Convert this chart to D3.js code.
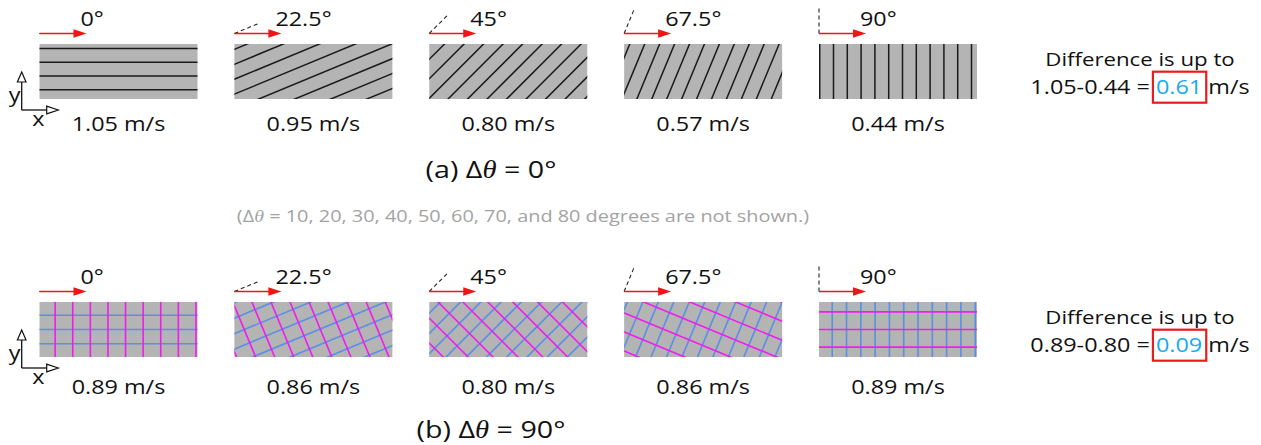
<!DOCTYPE html>
<html>
<head>
<meta charset="utf-8">
<script src="https://cdn.jsdelivr.net/npm/d3@7"></script>
<style>
  html, body { margin: 0; padding: 0; background: #fff; }
  svg { display: block; }
</style>
</head>
<body>
<svg id="fig" width="1261" height="445"></svg>
<script>
// Fibre orientation angles (degrees) shown in each row
const angles = [0, 22.5, 45, 67.5, 90];
// Wave speed measured for each orientation (m/s)
const speedsA = [1.05, 0.95, 0.80, 0.57, 0.44];   // single fibre family (Δθ = 0°)
const speedsB = [0.89, 0.86, 0.80, 0.86, 0.89];   // crossed families (Δθ = 90°)
// Angle between the two fibre families in each row
const deltaThetas = [0, 90];
const rowLetters = ["a", "b"];
// Intermediate cases left out of the figure
const hiddenDeltas = [10, 20, 30, 40, 50, 60, 70, 80];

const rows = [
  { delta: deltaThetas[0], letter: rowLetters[0], speeds: speedsA },
  { delta: deltaThetas[1], letter: rowLetters[1], speeds: speedsB }
];

const FONT = "'Open Sans', sans-serif";
const SX = 1.17;             // horizontal stretch applied to all lettering
const PW = 158, PH = 55;     // panel size
const svg = d3.select("#fig");

const xPanel = d3.scalePoint().domain(angles).range([39.5, 819]);
const yRow = d3.scalePoint().domain(deltaThetas).range([44, 302]);

const defs = svg.append("defs");

function label(parent, x, y, anchor, size, fill) {
  return parent.append("text")
    .attr("transform", `translate(${x},${y}) scale(${SX},1)`)
    .attr("text-anchor", anchor)
    .attr("font-family", FONT)
    .attr("font-size", size)
    .attr("fill", fill || "#111");
}

// Parallel fibre lines at angle phi, clipped to the panel
function hatch(g, cx, cy, phi, spacing, phase, color, width) {
  const r = phi * Math.PI / 180;
  const dir = [Math.cos(r), -Math.sin(r)];
  const nrm = [Math.sin(r), Math.cos(r)];
  const R = Math.hypot(PW, PH) / 2 + 2;
  const ks = d3.range(Math.ceil((-R - phase) / spacing), Math.floor((R - phase) / spacing) + 1);
  g.selectAll(null).data(ks).enter().append("line")
    .attr("x1", k => cx + (phase + k * spacing) * nrm[0] - R * dir[0])
    .attr("y1", k => cy + (phase + k * spacing) * nrm[1] - R * dir[1])
    .attr("x2", k => cx + (phase + k * spacing) * nrm[0] + R * dir[0])
    .attr("y2", k => cy + (phase + k * spacing) * nrm[1] + R * dir[1])
    .attr("stroke", color)
    .attr("stroke-width", width);
}

// Small x/y reference axes with hollow heads
function axesIcon(g, ox, oy) {
  g.append("line").attr("x1", ox).attr("y1", oy).attr("x2", ox).attr("y2", oy - 29)
    .attr("stroke", "#111").attr("stroke-width", 1.3);
  g.append("line").attr("x1", ox).attr("y1", oy).attr("x2", ox + 26).attr("y2", oy)
    .attr("stroke", "#111").attr("stroke-width", 1.3);
  g.append("path").attr("d", `M${ox},${oy - 38} L${ox - 4.3},${oy - 28} L${ox + 4.3},${oy - 28} Z`)
    .attr("fill", "#fff").attr("stroke", "#111").attr("stroke-width", 1.2);
  g.append("path").attr("d", `M${ox + 36.6},${oy} L${ox + 25},${oy - 3.8} L${ox + 25},${oy + 3.8} Z`)
    .attr("fill", "#fff").attr("stroke", "#111").attr("stroke-width", 1.2);
  label(g, ox - 7, oy - 7.6, "middle", 20).text("y");
  label(g, ox + 16.6, oy + 16, "middle", 20).text("x");
}

rows.forEach((row, ri) => {
  const top = yRow(row.delta);
  const g = svg.append("g");
  const speedGap = ri === 0 ? 87 : 92;

  angles.forEach((a, i) => {
    const left = xPanel(a);
    const cx = left + PW / 2, cy = top + PH / 2;
    const id = `clip-${ri}-${i}`;
    defs.append("clipPath").attr("id", id)
      .append("rect").attr("x", left).attr("y", top).attr("width", PW).attr("height", PH);

    g.append("rect").attr("x", left).attr("y", top).attr("width", PW).attr("height", PH)
      .attr("fill", "#b4b4b4");

    const lines = g.append("g").attr("clip-path", `url(#${id})`);
    if (row.delta === 0) {
      hatch(lines, cx, cy, a, 13.8, 4.5, "#1a1a1a", 1.5);
    } else {
      const s = Math.abs(Math.sin(a * Math.PI / 180));
      hatch(lines, cx, cy, a, 14.3, 0.4 * 14.3 * s, "#5b8ee6", 1.6);
      const b = a + row.delta;
      const sb = Math.abs(Math.sin(b * Math.PI / 180));
      hatch(lines, cx, cy, b, 17.6, 0.4 * 17.6 * sb, "#f01cf0", 1.6);
    }

    // loading direction arrow and dashed fibre-angle guide
    const ay = top - 10.5;
    const r = a * Math.PI / 180;
    g.append("line").attr("x1", left).attr("y1", ay)
      .attr("x2", left + 25 * Math.cos(r)).attr("y2", ay - 25 * Math.sin(r))
      .attr("stroke", "#222").attr("stroke-width", 1.1).attr("stroke-dasharray", "4,3");
    g.append("line").attr("x1", left).attr("y1", ay).attr("x2", left + 36).attr("y2", ay)
      .attr("stroke", "#f01414").attr("stroke-width", 1.6);
    g.append("path").attr("d", `M${left + 47},${ay} L${left + 34},${ay - 4.2} L${left + 34},${ay + 4.2} Z`)
      .attr("fill", "#f01414");

    label(g, left + 41, top - 18, "start", 20).text(`${a}°`);
    label(g, cx, top + speedGap, "middle", 20).text(`${row.speeds[i].toFixed(2)} m/s`);
  });

  axesIcon(g, 21.7, top + PH + 11);

  // row caption
  const cap = label(g, 491, ri === 0 ? 178 : 438, "middle", 24.5);
  cap.append("tspan").text(`(${row.letter}) Δ`);
  cap.append("tspan").attr("font-family", "'Liberation Serif', serif").attr("font-style", "italic").text("θ");
  cap.append("tspan").text(` = ${row.delta}°`);

  // spread between fastest and slowest orientation
  const hi = d3.max(row.speeds), lo = d3.min(row.speeds);
  const diff = (hi - lo).toFixed(2);
  const rx = 1140;
  label(g, rx, top + 22, "middle", 19).text("Difference is up to");
  const pre = `${hi.toFixed(2)}-${lo.toFixed(2)} = `;
  const t = label(g, 0, 0, "start", 20);
  t.append("tspan").text(pre);
  t.append("tspan").attr("fill", "#17a9f0").text(diff);
  t.append("tspan").text(" m/s");
  const node = t.node();
  const total = node.getComputedTextLength();
  const x0 = rx - SX * total / 2;
  const yb = top + 50.3;
  t.attr("transform", `translate(${x0},${yb}) scale(${SX},1)`);
  const preW = node.getSubStringLength(0, pre.length);
  const numW = node.getSubStringLength(pre.length, diff.length + 1);
  g.append("rect")
    .attr("x", x0 + SX * preW - 3)
    .attr("y", yb - 22.6)
    .attr("width", SX * numW + 1)
    .attr("height", 31)
    .attr("fill", "none").attr("stroke", "#e81c1c").attr("stroke-width", 2.2);
});

// note about the omitted intermediate cases
const note = label(svg, 523, 221.7, "middle", 17, "#a3a3a3");
note.append("tspan").text("(Δ");
note.append("tspan").attr("font-family", "'Liberation Serif', serif").attr("font-style", "italic").text("θ");
note.append("tspan").text(` = ${hiddenDeltas.slice(0, -1).join(", ")}, and ${hiddenDeltas[hiddenDeltas.length - 1]} degrees are not shown.)`);
</script>
</body>
</html>
